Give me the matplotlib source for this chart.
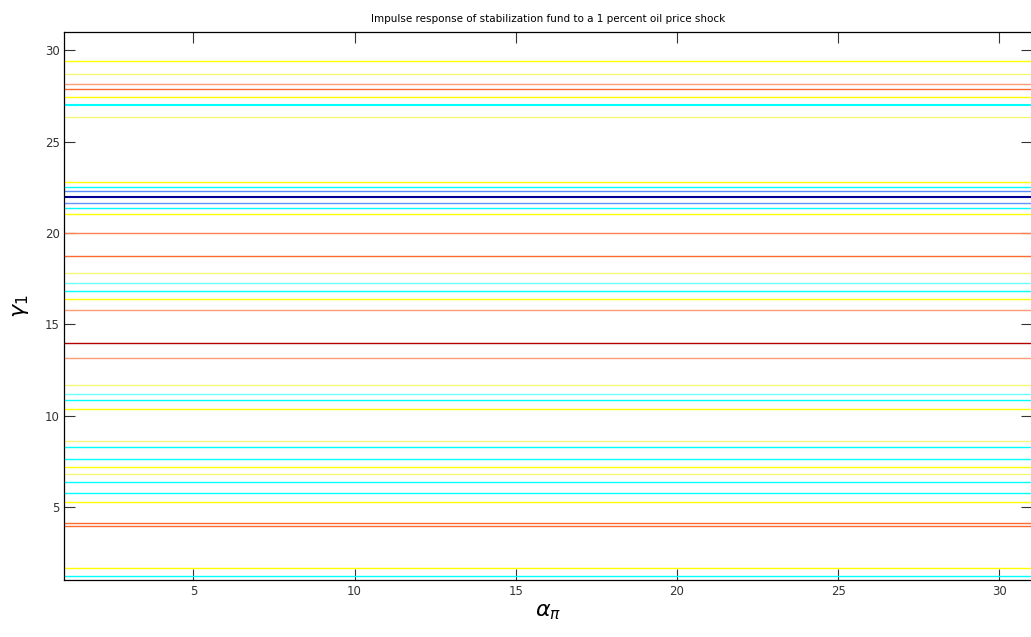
import matplotlib
matplotlib.use("Agg")
import matplotlib.pyplot as plt

# contour levels (gamma_1 value of each horizontal contour)
levels_y = [29.41, 28.68, 28.15, 27.87, 27.43, 26.99, 26.32,
            22.76, 22.54, 22.28, 21.99, 21.66, 21.36, 21.05,
            20.02, 18.75, 17.78, 17.24, 16.82, 16.38, 15.79,
            13.95, 13.14, 11.66, 11.18, 10.84, 10.37,
            8.62, 8.27, 7.61, 7.17, 6.78, 6.36, 5.76, 5.26,
            4.10, 3.93, 1.65, 1.23]
x_range = [1, 31]
x_ticks = [5, 10, 15, 20, 25, 30]
y_ticks = [5, 10, 15, 20, 25, 30]

# line colours (jet-like contour colouring)
Y = '#ffff00'
LY = '#f6f67a'
C = '#00ffff'
LC = '#70ffff'
SA = '#ff9c78'
OR = '#ff6a30'
line_colors = [Y, LY, SA, OR, Y, C, LY,
               Y, C, '#5a8cff', '#000096', '#6494ff', C, Y,
               '#ff8050', OR, LY, LC, C, Y, SA,
               '#b40000', SA, LY, LC, C, Y,
               LY, C, C, Y, LY, C, C, Y,
               OR, OR, Y, C]
line_widths = [1.5 if i in (5, 10) else 1.0 for i in range(len(line_colors))]


def main():
    fig = plt.figure(figsize=(10.31, 6.37), dpi=100)
    ax = fig.add_axes([0.0625, 0.0895, 0.938, 0.8603])

    ax.hlines(levels_y, x_range[0], x_range[1], colors=line_colors,
              linewidths=line_widths)

    ax.set_xlim(x_range)
    ax.set_ylim(1, 31)
    ax.set_xticks(x_ticks)
    ax.set_yticks(y_ticks)
    ax.tick_params(direction='in', length=8, top=True, right=True,
                   labelsize=8.5, colors='#333333', width=0.8)
    for s in ax.spines.values():
        s.set_linewidth(0.9)

    ax.set_title('Impulse response of stabilization fund to a 1 percent oil price shock',
                 fontsize=7.5, family=['Liberation Sans Narrow', 'DejaVu Sans'], pad=7)
    ax.set_xlabel(r'$\alpha_\pi$', fontsize=16, labelpad=3)
    ax.set_ylabel(r'$\gamma_1$', fontsize=16, labelpad=10)

    fig.savefig('out.png', dpi=100)


if __name__ == "__main__":
    main()
